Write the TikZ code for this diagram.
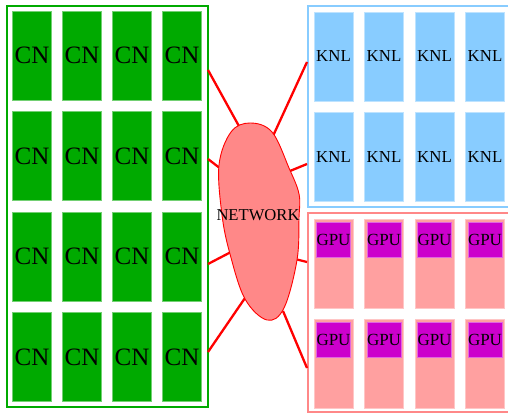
\documentclass[tikz,border=0pt]{standalone}
\usepackage{fontspec}
\setmainfont{Liberation Serif}
\begin{document}
\begin{tikzpicture}[x=1pt,y=-1pt,
  frame/.style={line width=2pt},
  unit/.style={minimum width=39pt,minimum height=89pt,inner sep=0pt,line width=0.8pt},
  cnbox/.style={unit,fill=cnfill,draw=cnfill!55!white,font=\fontsize{25}{25}\selectfont},
  knlbox/.style={unit,fill=knlfill,draw=knlfill!55!white,font=\fontsize{16.8}{17}\selectfont},
  gpubox/.style={unit,fill=gpufill,draw=gpufill!60!white},
  gpuchip/.style={minimum width=33pt,minimum height=35pt,inner sep=0pt,fill=chipfill,draw=chipfill!60!white,line width=0.6pt,font=\fontsize{17}{17}\selectfont},
  spoke/.style={draw=red,line width=2.3pt},
]
\definecolor{cnfill}{HTML}{00AA00}
\definecolor{knlfill}{HTML}{88CCFF}
\definecolor{gpufill}{HTML}{FFA0A0}
\definecolor{chipfill}{HTML}{CC00CC}
\definecolor{netfill}{HTML}{FF8888}
\definecolor{gpuframe}{HTML}{FF8888}
\useasboundingbox (0,0) rectangle (508,414);
\clip (0,0) rectangle (508,414);
\fill[white] (0,0) rectangle (508,414);

% cluster frames
\draw[frame,draw=cnfill] (7,6) rectangle (208,407);
\draw[frame,draw=knlfill] (308,6) rectangle (512,207);
\draw[frame,draw=gpuframe] (308,213) rectangle (512,412);

% CPU compute nodes
\foreach \r in {0,1,2,3}{
  \foreach \c in {0,1,2,3}{
    \node[cnbox] (cn-\r-\c) at ({32+50*\c},{55.7+100.5*\r}) {CN};
  }
}

% KNL nodes
\foreach \r in {0,1}{
  \foreach \c in {0,1,2,3}{
    \node[knlbox] (knl-\r-\c) at ({333.5+50.5*\c},{56.5+100.5*\r}) {KNL};
  }
}

% GPU nodes
\foreach \r in {0,1}{
  \foreach \c in {0,1,2,3}{
    \node[gpubox] (gpu-\r-\c) at ({333.5+50.5*\c},{263.5+100.3*\r}) {};
    \node[gpuchip,anchor=north] (chip-\r-\c) at ([yshift=-3.3pt]gpu-\r-\c.north) {GPU};
  }
}

% spoke end points
\coordinate (l1a) at (208,70);  \coordinate (l1b) at (240,128);
\coordinate (l2a) at (208,159); \coordinate (l2b) at (221,169);
\coordinate (l3a) at (208,264); \coordinate (l3b) at (231,252);
\coordinate (l4a) at (208,352); \coordinate (l4b) at (245,298);
\coordinate (r1a) at (307,62);  \coordinate (r1b) at (273,136);
\coordinate (r2a) at (307,164); \coordinate (r2b) at (290,171);
\coordinate (r3a) at (307,262); \coordinate (r3b) at (295,259);
\coordinate (r4a) at (307,368); \coordinate (r4b) at (283,311);
\foreach \s in {l1,l2,l3,l4,r1,r2,r3,r4}{
  \draw[spoke] (\s a) -- (\s b);
}

% network cloud
\draw[red,fill=netfill,line width=0.9pt] plot[smooth cycle,tension=0.6] coordinates {
  (250,123) (272,132) (289,168) (299,194) (299,218) (297,260)
  (284,308) (267,320) (245,299) (230,254) (222,215) (219,165) (231,132)};
\node[font=\fontsize{16.6}{17}\selectfont,inner sep=0pt] (net) at (258,215) {NETWORK};
\end{tikzpicture}
\end{document}
